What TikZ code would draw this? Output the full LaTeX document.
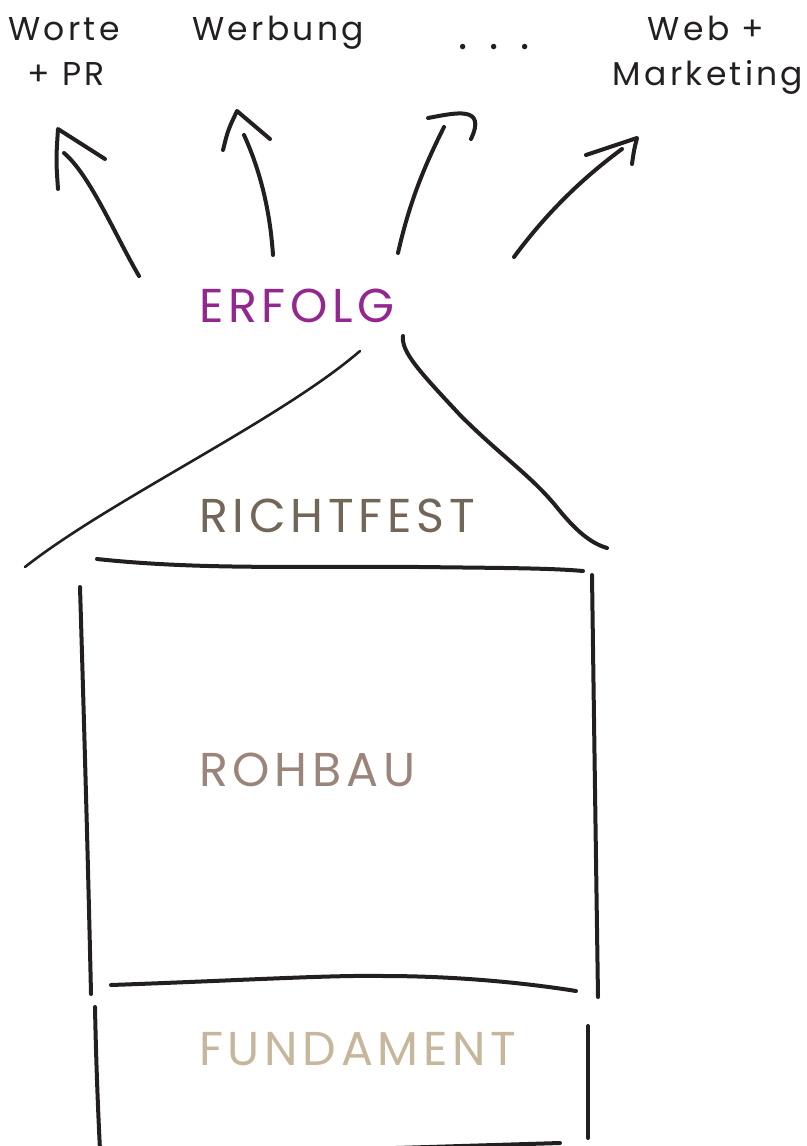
\documentclass[tikz,border=0pt]{standalone}
\usepackage{fontspec}
\setmainfont{Poppins}
\newfontfamily\sketchfont{Poppins}[LetterSpace=10]
\usepackage{tikz}
\usetikzlibrary{positioning}
\definecolor{InkDark}{HTML}{231F20}
\definecolor{ErfolgPurple}{HTML}{93278F}
\definecolor{RichtfestBrown}{HTML}{726659}
\definecolor{RohbauTaupe}{HTML}{9B857A}
\definecolor{FundamentSand}{HTML}{C6B79C}
\tikzset{
  stroke/.style={draw=InkDark, line width=4pt, line cap=round, line join=round},
  thinstroke/.style={draw=InkDark, line width=2.6pt, line cap=round},
  toplbl/.style={anchor=base, inner sep=0pt, text=InkDark,
                 font=\sketchfont\fontsize{33}{40}\selectfont},
  steplbl/.style={anchor=base west, inner sep=0pt,
                 font=\sketchfont\fontsize{47.5}{56}\selectfont},
}

\begin{document}
\begin{tikzpicture}[x=1pt, y=-1pt]
\useasboundingbox (0,0) rectangle (806,1146);
% top labels
\node[toplbl] (worte) at (64,40) {Worte};
\node[toplbl] (wortepr) at (66,85) {+ PR};
\node[toplbl] (werbung) at (278,40) {Werbung};
\node[toplbl, font=\sketchfont\fontsize{44}{50}\selectfont] (dots) at (494,49) {. . .};
\node[toplbl] (web) at (706,40) {Web +};
\node[toplbl] (marketing) at (708,85) {Marketing};
% arrows
\draw[stroke] (139,276) .. controls (115,235) and (90,175) .. (64,153);
\draw[stroke] (58,189) .. controls (56,160) .. (58,129) -- (105,159);
\draw[stroke] (273,255) .. controls (270,210) and (260,170) .. (244,135);
\draw[stroke] (223,150) .. controls (228,130) .. (237,111) -- (270,139);
\draw[stroke] (398,253) .. controls (410,200) and (425,165) .. (444,127);
\draw[stroke] (428,118) .. controls (455,113) and (487,105) .. (471,139);
\draw[stroke] (514,257) .. controls (545,215) and (580,180) .. (622,149);
\draw[stroke] (586,155) -- (637,138) .. controls (634,150) .. (632,164);
% layers
\node[steplbl, text=ErfolgPurple] (erfolg) at (199,322) {ERFOLG};
\node[steplbl, text=RichtfestBrown] (richtfest) at (199,532) {RICHTFEST};
\node[steplbl, text=RohbauTaupe] (rohbau) at (199,786) {ROHBAU};
\node[steplbl, text=FundamentSand] (fundament) at (199,1065) {FUNDAMENT};
% roof
\draw[thinstroke] (25,567) .. controls (110,500) and (280,420) .. (360,351);
\draw[stroke] (403,336) .. controls (401,352) and (420,372) .. (460,415)
  .. controls (500,455) and (530,475) .. (555,505)
  .. controls (575,530) and (590,543) .. (607,548);
% house body
\draw[stroke] (97,559) .. controls (200,570) and (300,566) .. (420,567)
  .. controls (500,568) and (550,568) .. (583,571);
\draw[stroke] (80,587) .. controls (84,720) and (88,860) .. (91,994);
\draw[stroke] (592,575) .. controls (594,720) and (596,860) .. (598,997);
\draw[stroke] (111,985) .. controls (250,980) and (330,975) .. (384,976)
  .. controls (450,976) and (520,982) .. (576,991);
\draw[stroke] (95,1007) .. controls (96,1060) and (98,1110) .. (100,1150);
\draw[stroke] (588,1026) -- (588,1138);
\draw[stroke] (330,1150) -- (560,1143);
\end{tikzpicture}
\end{document}
